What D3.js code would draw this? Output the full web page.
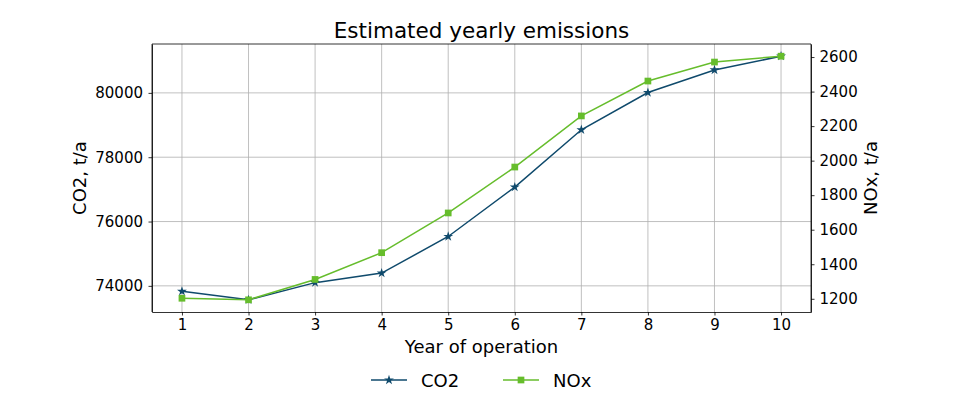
<!DOCTYPE html>
<html><head><meta charset="utf-8">
<script src="https://cdn.jsdelivr.net/npm/d3@7"></script>
<style>body{margin:0;background:#fff}svg{display:block;font-family:"DejaVu Sans",sans-serif}</style>
</head><body><svg id="c" width="970" height="407"></svg>
<script>
const years = [1,2,3,4,5,6,7,8,9,10];
const co2 = [73830,73566,74100,74397,75535,77070,78853,80010,80713,81141];
const nox = [1203,1194,1312,1467,1697,1963,2259,2461,2571,2605];
const co2Ticks = [74000,76000,78000,80000];
const noxTicks = [1200,1400,1600,1800,2000,2200,2400,2600];
const title = "Estimated yearly emissions";
const xLabel = "Year of operation";
const yLeftLabel = "CO2, t/a";
const yRightLabel = "NOx, t/a";
const seriesNames = ["CO2","NOx"];
const colors = ["#0f4a6c","#66bd2c"];

const L=152,R=811,T=44,B=312;
const svg=d3.select("#c");
const pad=(lo,hi)=>{const r=hi-lo;return [lo-r*0.05,hi+r*0.05];};
const x=d3.scaleLinear().domain(pad(d3.min(years),d3.max(years))).range([L,R]);
const yL=d3.scaleLinear().domain(pad(d3.min(co2),d3.max(co2))).range([B,T]);
const yR=d3.scaleLinear().domain(pad(d3.min(nox),d3.max(nox))).range([B,T]);

// grid
const g=svg.append("g");
g.selectAll(".gx").data(years).enter().append("line")
 .attr("x1",d=>x(d)).attr("x2",d=>x(d)).attr("y1",T).attr("y2",B)
 .attr("stroke","#b0b0b0").attr("stroke-width",0.8);
g.selectAll(".gy").data(co2Ticks).enter().append("line")
 .attr("y1",d=>yL(d)).attr("y2",d=>yL(d)).attr("x1",L).attr("x2",R)
 .attr("stroke","#b0b0b0").attr("stroke-width",0.8);

// axes
function style(sel){
  sel.selectAll("path").attr("stroke","#000").attr("stroke-width",0.8);
  sel.selectAll(".tick line").attr("stroke","#000").attr("stroke-width",0.8);
  sel.selectAll("text").attr("font-size","15px").attr("fill","#000").attr("font-family","DejaVu Sans");
}
const ax=svg.append("g").attr("transform",`translate(0,${B})`)
 .call(d3.axisBottom(x).tickValues(years).tickFormat(d3.format("d")).tickSizeOuter(0).tickSizeInner(3.5).tickPadding(4));
style(ax);
const al=svg.append("g").attr("transform",`translate(${L},0)`)
 .call(d3.axisLeft(yL).tickValues(co2Ticks).tickFormat(d3.format("d")).tickSizeOuter(0).tickSizeInner(3.5).tickPadding(5.5));
style(al);
const ar=svg.append("g").attr("transform",`translate(${R},0)`)
 .call(d3.axisRight(yR).tickValues(noxTicks).tickFormat(d3.format("d")).tickSizeOuter(0).tickSizeInner(3.5).tickPadding(5));
style(ar);
// spines
svg.append("line").attr("x1",L).attr("x2",R).attr("y1",T).attr("y2",T).attr("stroke","#000").attr("stroke-width",0.8);
svg.append("line").attr("x1",L).attr("x2",L).attr("y1",T).attr("y2",B).attr("stroke","#000").attr("stroke-width",0.8);
svg.append("line").attr("x1",R).attr("x2",R).attr("y1",T).attr("y2",B).attr("stroke","#000").attr("stroke-width",0.8);

// lines
const star=d3.symbol().type(d3.symbolStar).size(30);
const sq=d3.symbol().type(d3.symbolSquare).size(45);
function drawSeries(vals,ys,color,sym){
  svg.append("path").datum(vals)
   .attr("d",d3.line().x((d,i)=>x(years[i])).y(d=>ys(d)))
   .attr("fill","none").attr("stroke",color).attr("stroke-width",1.5);
  svg.selectAll(null).data(vals).enter().append("path")
   .attr("d",sym).attr("transform",(d,i)=>`translate(${x(years[i])},${ys(d)})`)
   .attr("fill",color);
}
drawSeries(co2,yL,colors[0],star);
drawSeries(nox,yR,colors[1],sq);

// texts
svg.append("text").attr("x",(L+R)/2).attr("y",38).attr("text-anchor","middle")
 .attr("font-size","21.5px").text(title);
svg.append("text").attr("x",(L+R)/2).attr("y",353).attr("text-anchor","middle")
 .attr("font-size","18px").text(xLabel);
svg.append("text").attr("transform",`translate(86,${(T+B)/2}) rotate(-90)`).attr("text-anchor","middle")
 .attr("font-size","18px").text(yLeftLabel);
svg.append("text").attr("transform",`translate(877,${(T+B)/2}) rotate(-90)`).attr("text-anchor","middle")
 .attr("font-size","18px").text(yRightLabel);

// legend
const leg=[{x:371,n:seriesNames[0],c:colors[0],s:star},{x:503,n:seriesNames[1],c:colors[1],s:sq}];
leg.forEach(l=>{
  svg.append("line").attr("x1",l.x).attr("x2",l.x+36).attr("y1",380).attr("y2",380).attr("stroke",l.c).attr("stroke-width",1.5);
  svg.append("path").attr("d",l.s).attr("transform",`translate(${l.x+18},380)`).attr("fill",l.c);
  svg.append("text").attr("x",l.x+50).attr("y",386.5).attr("font-size","18px").text(l.n);
});
</script></body></html>
